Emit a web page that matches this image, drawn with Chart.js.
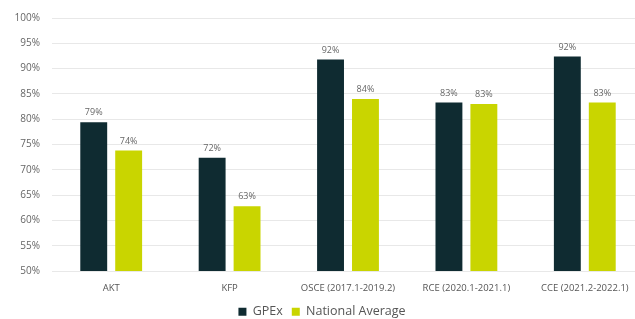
<!DOCTYPE html>
<html>
<head>
<meta charset="utf-8">
<script src="https://cdn.jsdelivr.net/npm/chart.js@4"></script>
<style>
  html, body { margin: 0; padding: 0; background: #fff; overflow: hidden; }
  #wrap { width: 650px; height: 319px; }
</style>
</head>
<body>
<div id="wrap"><canvas id="chart" width="650" height="319"></canvas></div>
<script>
const categories = ["AKT", "KFP", "OSCE (2017.1-2019.2)", "RCE (2020.1-2021.1)", "CCE (2021.2-2022.1)"];
const gpexValues = [79.4, 72.4, 91.8, 83.3, 92.4];
const nationalValues = [73.8, 62.8, 84.0, 83.0, 83.3];
const seriesNames = ["GPEx", "National Average"];
const yMin = 50, yMax = 100, yStep = 5;

const barLabels = {
  id: "barLabels",
  afterDatasetsDraw(chart) {
    const ctx = chart.ctx;
    ctx.save();
    ctx.font = "9px 'Open Sans'";
    ctx.fillStyle = "#666";
    ctx.textAlign = "center";
    ctx.textBaseline = "bottom";
    chart.data.datasets.forEach((ds, i) => {
      chart.getDatasetMeta(i).data.forEach((bar, j) => {
        ctx.fillText(Math.round(ds.data[j]) + "%", bar.x, bar.y - 5);
      });
    });
    ctx.restore();
  }
};

new Chart(document.getElementById("chart"), {
  type: "bar",
  data: {
    labels: categories,
    datasets: [
      { label: seriesNames[0], data: gpexValues, backgroundColor: "#0f2b31" },
      { label: seriesNames[1], data: nationalValues, backgroundColor: "#c9d500" }
    ]
  },
  options: {
    responsive: false,
    animation: false,
    layout: { padding: { top: 14, right: 6, left: 0, bottom: -9 } },
    categoryPercentage: 0.59,
    barPercentage: 0.77,
    scales: {
      x: {
        grid: { display: false },
        border: { display: false },
        ticks: { color: "#555", font: { family: "'Open Sans'", size: 9.5 }, padding: 3, maxRotation: 0 }
      },
      y: {
        min: yMin, max: yMax,
        afterFit: s => { s.width = 52; },
        grid: { color: "#e8e8e8", drawTicks: false },
        border: { display: false },
        ticks: {
          stepSize: yStep,
          padding: 12,
          color: "#666",
          font: { family: "'Open Sans'", size: 10 },
          callback: v => v + "%"
        }
      }
    },
    plugins: {
      legend: {
        position: "bottom",
        labels: {
          boxWidth: 8, boxHeight: 8,
          color: "#555",
          font: { family: "'Open Sans'", size: 12.5 },
          padding: 9
        }
      },
      tooltip: { enabled: false }
    }
  },
  plugins: [barLabels]
});
</script>
</body>
</html>
